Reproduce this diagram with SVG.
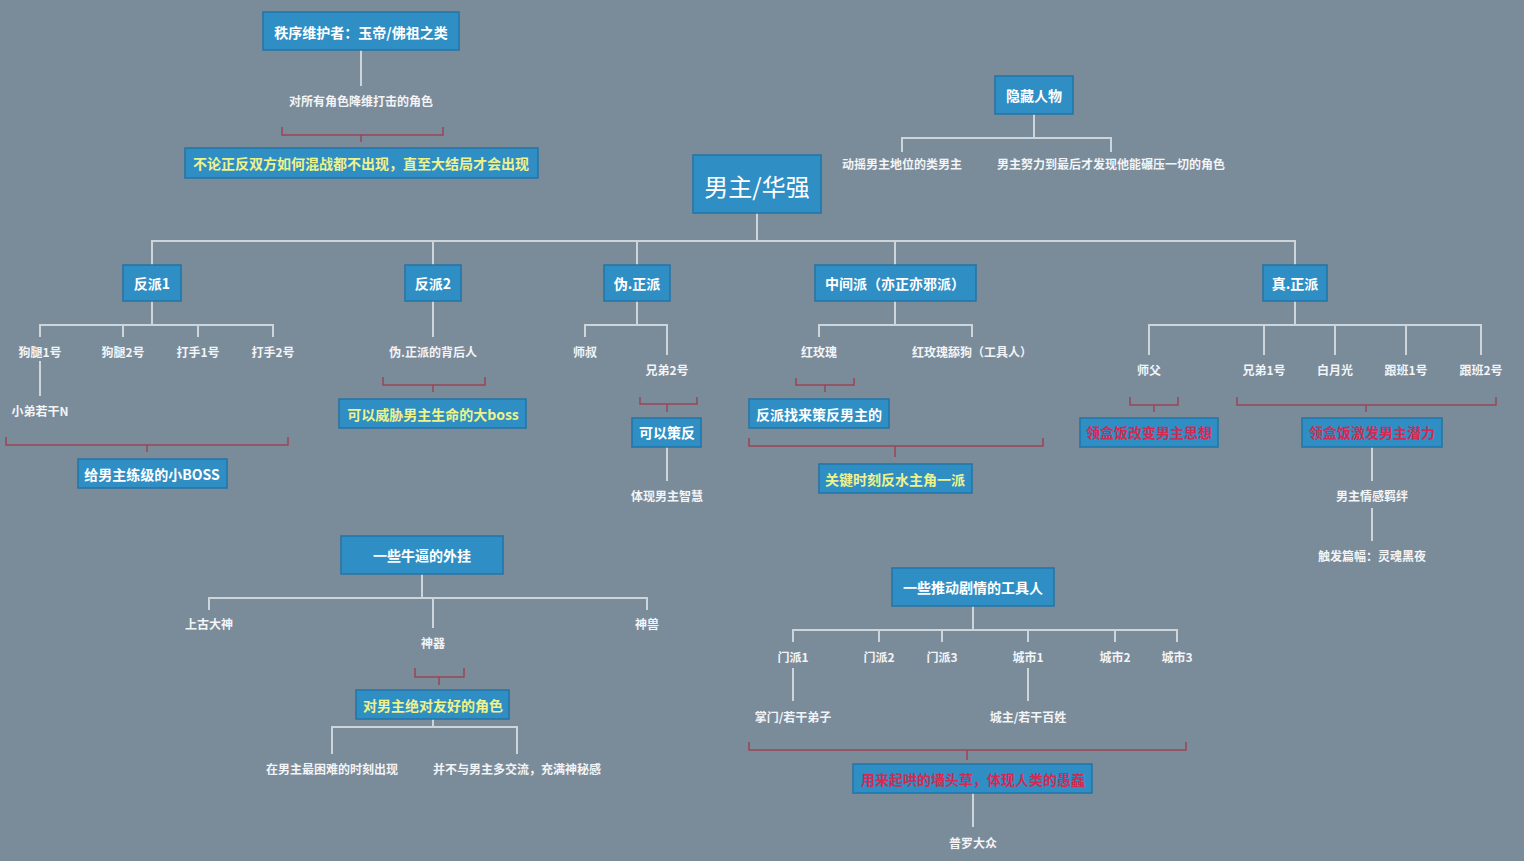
<svg xmlns="http://www.w3.org/2000/svg" width="1524" height="861" viewBox="0 0 1524 861">
<style>
.bg{fill:#7a8b9a}
.box{fill:#2f8fc5;stroke:#2374a6;stroke-width:1.5}
.bt{font-family:"Noto Sans CJK SC","Noto Sans",sans-serif;font-size:14px;font-weight:bold;fill:#ffffff;text-anchor:middle;dominant-baseline:central}
.yl{fill:#eef28a}
.rd{fill:#d42a52}
.t{font-family:"Noto Sans CJK SC","Noto Sans",sans-serif;font-size:12px;font-weight:bold;fill:#f2f4f6;text-anchor:middle;dominant-baseline:central}
.main{font-family:"Noto Sans CJK SC","Noto Sans",sans-serif;font-size:24px;fill:#ffffff;text-anchor:middle;dominant-baseline:central}
.ln{fill:none;stroke:#cdd4da;stroke-width:2}
.br{fill:none;stroke:#9b4656;stroke-width:1.5}
</style>
<rect class="bg" x="0" y="0" width="1524" height="861"/>
<g id="connectors">
<path class="ln" d="M361,50V86"/>
<path class="br" d="M282,127V135H443V127M361,135V142"/>
<path class="ln" d="M1034,114V138M902,152V138H1111V152"/>
<path class="ln" d="M757,213V241M152,265V241H1295V265M433,241V265M637,241V265M895,241V265"/>
<path class="ln" d="M152,301V325M40,337V325H273V337M123,325V337M198,325V337M40,361V396"/>
<path class="br" d="M6,437V445H288V437M147,445V452"/>
<path class="ln" d="M433,301V337"/>
<path class="br" d="M383,377V385H485V377M433,385V392"/>
<path class="ln" d="M637,301V325M585,337V325H667V355M667,447V481"/>
<path class="br" d="M640,397V404H697V397M667,404V412"/>
<path class="ln" d="M895,301V325M819,337V325H972V337"/>
<path class="br" d="M796,378V385H854V378M825,385V392M749,438V446H1043V438M895,446V457"/>
<path class="ln" d="M1295,301V325M1149,355V325H1481V355M1264,325V355M1335,325V355M1406,325V355M1372,447V481M1372,508V541"/>
<path class="br" d="M1130,397V405H1178V397M1154,405V412M1237,397V405H1496V397M1366,405V412"/>
<path class="ln" d="M422,574V598M209,610V598H647V610M433,598V628M433,719V727M332,754V727H517V754"/>
<path class="br" d="M415,668V677H464V668M439,677V685"/>
<path class="ln" d="M973,606V630M793,642V630H1177V642M879,630V642M942,630V642M1028,630V642M1115,630V642M793,668V701M1028,668V701M973,793V827"/>
<path class="br" d="M749,742V750H1186V742M967,750V760"/>
</g>
<g id="n-top"><rect class="box" x="263" y="12" width="196" height="38"/><text class="bt" x="361" y="32">秩序维护者：玉帝/佛祖之类</text></g>
<g id="n-top-a"><text class="t" x="361" y="100">对所有角色降维打击的角色</text></g>
<g id="n-top-b"><rect class="box" x="185" y="148" width="353" height="30"/><text class="bt yl" x="361" y="163">不论正反双方如何混战都不出现，直至大结局才会出现</text></g>
<g id="n-hidden"><rect class="box" x="995" y="76" width="78" height="38"/><text class="bt" x="1034" y="95">隐藏人物</text></g>
<g id="n-hidden-a"><text class="t" x="902" y="163">动摇男主地位的类男主</text></g>
<g id="n-hidden-b"><text class="t" x="1111" y="163">男主努力到最后才发现他能碾压一切的角色</text></g>
<g id="n-main"><rect class="box" x="693" y="155" width="128" height="58" stroke-width="2"/><text class="main" x="757" y="185">男主/华强</text></g>
<g id="n-fp1"><rect class="box" x="123" y="265" width="58" height="36"/><text class="bt" x="152" y="283">反派1</text></g>
<g id="n-fp1-a"><text class="t" x="40" y="351">狗腿1号</text></g>
<g id="n-fp1-b"><text class="t" x="123" y="351">狗腿2号</text></g>
<g id="n-fp1-c"><text class="t" x="198" y="351">打手1号</text></g>
<g id="n-fp1-d"><text class="t" x="273" y="351">打手2号</text></g>
<g id="n-fp1-e"><text class="t" x="40" y="410">小弟若干N</text></g>
<g id="n-fp1-f"><rect class="box" x="78" y="459" width="149" height="29"/><text class="bt" x="152" y="474">给男主练级的小BOSS</text></g>
<g id="n-fp2"><rect class="box" x="405" y="265" width="56" height="36"/><text class="bt" x="433" y="283">反派2</text></g>
<g id="n-fp2-a"><text class="t" x="433" y="351">伪.正派的背后人</text></g>
<g id="n-fp2-b"><rect class="box" x="339" y="399" width="187" height="29"/><text class="bt yl" x="433" y="414">可以威胁男主生命的大boss</text></g>
<g id="n-wzp"><rect class="box" x="604" y="265" width="66" height="36"/><text class="bt" x="637" y="283">伪.正派</text></g>
<g id="n-wzp-a"><text class="t" x="585" y="351">师叔</text></g>
<g id="n-wzp-b"><text class="t" x="667" y="369">兄弟2号</text></g>
<g id="n-wzp-c"><rect class="box" x="632" y="418" width="69" height="29"/><text class="bt" x="667" y="432">可以策反</text></g>
<g id="n-wzp-d"><text class="t" x="667" y="495">体现男主智慧</text></g>
<g id="n-mid"><rect class="box" x="815" y="265" width="161" height="36"/><text class="bt" x="895" y="283">中间派（亦正亦邪派）</text></g>
<g id="n-mid-a"><text class="t" x="819" y="351">红玫瑰</text></g>
<g id="n-mid-b"><text class="t" x="972" y="351">红玫瑰舔狗（工具人）</text></g>
<g id="n-mid-c"><rect class="box" x="749" y="399" width="140" height="29"/><text class="bt" x="819" y="414">反派找来策反男主的</text></g>
<g id="n-mid-d"><rect class="box" x="819" y="464" width="153" height="29"/><text class="bt yl" x="895" y="479">关键时刻反水主角一派</text></g>
<g id="n-zzp"><rect class="box" x="1263" y="265" width="64" height="36"/><text class="bt" x="1295" y="283">真.正派</text></g>
<g id="n-zzp-a"><text class="t" x="1149" y="369">师父</text></g>
<g id="n-zzp-b"><text class="t" x="1264" y="369">兄弟1号</text></g>
<g id="n-zzp-c"><text class="t" x="1335" y="369">白月光</text></g>
<g id="n-zzp-d"><text class="t" x="1406" y="369">跟班1号</text></g>
<g id="n-zzp-e"><text class="t" x="1481" y="369">跟班2号</text></g>
<g id="n-zzp-f"><rect class="box" x="1080" y="418" width="138" height="29"/><text class="bt rd" x="1149" y="432">领盒饭改变男主思想</text></g>
<g id="n-zzp-g"><rect class="box" x="1302" y="418" width="140" height="29"/><text class="bt rd" x="1372" y="432">领盒饭激发男主潜力</text></g>
<g id="n-zzp-h"><text class="t" x="1372" y="495">男主情感羁绊</text></g>
<g id="n-zzp-i"><text class="t" x="1372" y="555">触发篇幅：灵魂黑夜</text></g>
<g id="n-wg"><rect class="box" x="341" y="536" width="162" height="38"/><text class="bt" x="422" y="555">一些牛逼的外挂</text></g>
<g id="n-wg-a"><text class="t" x="209" y="623">上古大神</text></g>
<g id="n-wg-b"><text class="t" x="433" y="642">神器</text></g>
<g id="n-wg-c"><text class="t" x="647" y="623">神兽</text></g>
<g id="n-wg-d"><rect class="box" x="356" y="690" width="153" height="29"/><text class="bt yl" x="433" y="705">对男主绝对友好的角色</text></g>
<g id="n-wg-e"><text class="t" x="332" y="768">在男主最困难的时刻出现</text></g>
<g id="n-wg-f"><text class="t" x="517" y="768">并不与男主多交流，充满神秘感</text></g>
<g id="n-gj"><rect class="box" x="892" y="568" width="162" height="38"/><text class="bt" x="973" y="587">一些推动剧情的工具人</text></g>
<g id="n-gj-a"><text class="t" x="793" y="656">门派1</text></g>
<g id="n-gj-b"><text class="t" x="879" y="656">门派2</text></g>
<g id="n-gj-c"><text class="t" x="942" y="656">门派3</text></g>
<g id="n-gj-d"><text class="t" x="1028" y="656">城市1</text></g>
<g id="n-gj-e"><text class="t" x="1115" y="656">城市2</text></g>
<g id="n-gj-f"><text class="t" x="1177" y="656">城市3</text></g>
<g id="n-gj-g"><text class="t" x="793" y="716">掌门/若干弟子</text></g>
<g id="n-gj-h"><text class="t" x="1028" y="716">城主/若干百姓</text></g>
<g id="n-gj-i"><rect class="box" x="853" y="764" width="239" height="29"/><text class="bt rd" x="973" y="779">用来起哄的墙头草，体现人类的愚蠢</text></g>
<g id="n-gj-j"><text class="t" x="973" y="842">普罗大众</text></g>
</svg>
